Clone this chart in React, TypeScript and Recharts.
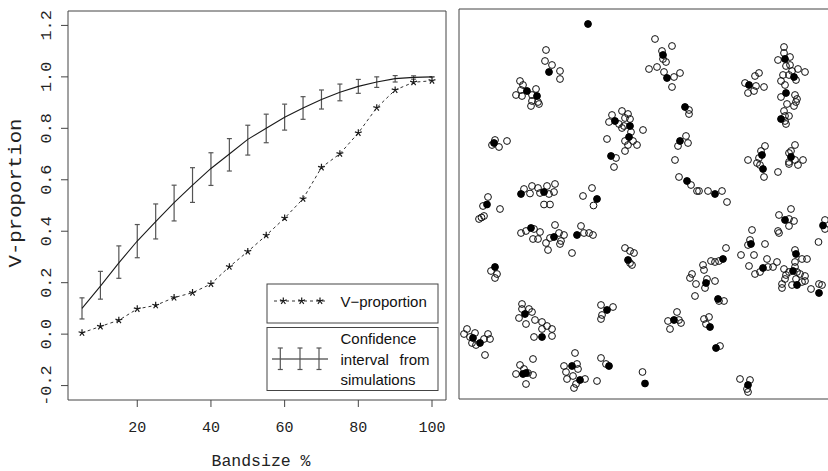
import React from 'react';
import { ComposedChart, ScatterChart, Line, Scatter, XAxis, YAxis, ErrorBar, ReferenceArea } from 'recharts';

// left panel: V-proportion against bandsize, with simulation envelope
const bandsize = [5, 10, 15, 20, 25, 30, 35, 40, 45, 50, 55, 60, 65, 70, 75, 80, 85, 90, 95, 100];
const vProportion = [0.005, 0.03, 0.054, 0.098, 0.112, 0.142, 0.161, 0.195, 0.262, 0.321, 0.384, 0.451, 0.526, 0.648, 0.701, 0.782, 0.88, 0.949, 0.979, 0.985];
const ciMean = [0.1, 0.187, 0.277, 0.362, 0.437, 0.511, 0.579, 0.644, 0.7, 0.757, 0.8, 0.843, 0.879, 0.912, 0.94, 0.963, 0.98, 0.993, 0.998, 1.0];
const ciLow = [0.059, 0.136, 0.217, 0.297, 0.37, 0.44, 0.512, 0.578, 0.634, 0.696, 0.744, 0.793, 0.835, 0.875, 0.907, 0.936, 0.959, 0.98, 0.991, 1.0];
const ciHigh = [0.141, 0.244, 0.343, 0.426, 0.506, 0.579, 0.647, 0.705, 0.76, 0.812, 0.855, 0.894, 0.923, 0.949, 0.972, 0.99, 1.0, 1.005, 1.004, 1.0];
const xTicks = [20, 40, 60, 80, 100];
const yTicks = [-0.2, 0, 0.2, 0.4, 0.6, 0.8, 1.0, 1.2];

// right panel: point pattern (open = all points, filled = V points)
const openPoints: [number, number][] = [
  [87, 349], [86, 338], [93, 334], [101, 328], [101, 320],
  [61, 318], [64, 314], [62, 309], [57, 304], [63, 303], [77, 310], [73, 304], [73, 298], [72, 293], [79, 297], [80, 295],
  [36, 259], [33, 254], [40, 252], [48, 258],
  [163, 288], [169, 285], [153, 284], [171, 280], [166, 281], [150, 277], [160, 275], [165, 273], [163, 271], [172, 267],
  [166, 258], [174, 258], [178, 254], [169, 254], [166, 248], [148, 260], [157, 241], [155, 232], [184, 269],
  [29, 202], [24, 193], [41, 190], [20, 180], [22.5, 181.5], [25, 183],
  [65, 210], [71, 205.5], [73, 213], [79, 211], [81, 206], [88, 213], [90, 205], [95, 207], [96, 215], [85, 194.5], [91, 194.5],
  [124, 203], [133, 211], [134.5, 193.5],
  [196, 360], [213, 353], [203, 348], [204, 340], [207, 337], [190, 330], [198, 332], [205, 327], [215, 322], [221, 326], [213, 312],
  [230, 289], [230, 285],
  [227, 263], [229, 256], [219, 253], [216, 239],
  [220, 222], [232, 214], [238, 208], [240, 208], [249, 208], [263, 208], [268, 197],
  [286, 316], [296, 323], [300, 326], [297, 313], [305, 312], [289, 306], [295, 308],
  [325, 352], [325, 346], [319, 339], [331, 342], [327, 333], [331, 334], [339, 330], [346, 327], [333, 328], [330, 324],
  [324, 324], [337, 319], [322, 318], [326, 314], [322, 302], [336, 304], [338, 300], [337, 297], [328, 295], [335, 293],
  [325, 288], [330, 283], [326, 283], [326, 278], [327, 275],
  [306, 253], [302, 248], [300, 241], [289, 239], [298, 236], [301, 234], [305, 222], [319, 227],
  [336, 254], [330, 246], [332, 248], [336, 239], [344, 239], [330, 235], [339, 234], [330, 237],
  [62, 166], [67, 168], [75, 170], [74, 160], [79, 160], [81, 167], [87, 156], [91, 161], [96, 174], [100, 166], [105, 164], [102, 158], [101, 155], [89, 149],
  [122, 173], [125, 166], [130, 166], [134, 164], [113, 146],
  [166, 151], [171, 148], [175, 146], [171, 136], [173, 134],
  [32, 128], [38, 125], [36, 121],
  [63, 95], [63, 90], [70, 90], [73, 87], [60, 81], [76, 79], [67, 75], [83, 77], [88, 73], [83, 70], [93, 70], [75, 62], [93, 63],
  [142, 94], [154, 92], [143, 84], [142, 80],
  [8, 70], [5, 65], [16, 66], [11, 62], [13, 56], [17, 54], [25, 60], [29, 65], [31, 60], [26, 44],
  [74, 40], [61, 34], [65, 30], [69, 26], [57, 25], [74, 24], [67, 15],
  [116, 46], [105, 33], [118, 35], [119, 30], [107, 27], [114, 23], [108, 20], [126, 20], [117, 15], [115, 11], [138, 18],
  [142, 41], [147, 35], [183.5, 27],
  [332, 190], [320, 184], [330, 180], [335, 178], [330, 173], [319, 168], [320, 166],
  [366, 179], [366, 170], [359.5, 157],
  [293, 169], [291, 159], [289, 154], [306, 155], [282, 144], [295, 144], [290, 133], [296, 125], [301, 127], [308, 140], [309, 132], [314, 132], [318, 137],
  [336, 149], [336, 137], [343, 140], [348, 140], [336, 132], [325, 130], [330, 127], [327, 124], [338, 127], [341, 125], [346, 123],
  [326, 120], [337, 120], [333, 114], [343, 117], [346, 118], [323, 115], [323, 111], [352, 110], [360, 115], [363, 114],
  [267, 151], [260, 138], [256, 137], [252, 138], [244, 134], [245, 129], [233, 125], [231, 121], [237, 115], [248, 120], [246, 111], [256, 118], [236, 103], [260, 98], [265, 98],
  [218, 87], [209, 78], [220, 79], [222, 76], [211, 70],
  [245, 80], [250, 82], [247, 75],
  [261, 53],
  [281, 20], [291, 19], [288, 10], [289, 7],
];
const filledPoints: [number, number][] = [
  [129, 375], [90, 327], [68, 308], [78, 303], [35, 256], [156, 278], [171, 273], [170, 262], [152, 243],
  [28, 194.5], [62, 205], [85, 207], [138, 200], [204, 344], [208, 321], [226, 292], [221, 258], [228, 218], [256, 205],
  [290, 314], [326, 340], [335, 322], [327, 306], [322, 280], [303, 244], [304, 230], [332, 242],
  [72, 171], [95, 162], [118, 164], [169, 139], [36, 132], [66, 85], [83, 62], [148, 89], [14, 61], [21, 56],
  [64, 25], [67, 26], [113, 33], [121, 19], [150, 33], [186, 15.5],
  [326, 179], [364, 173.5], [292, 155], [304, 131], [337, 145], [334, 128], [338, 114], [360, 106],
  [264, 140], [247, 116], [259, 100], [215, 79], [251, 72], [257, 51], [289, 14],
];

const MONO = '"Liberation Mono", "DejaVu Sans Mono", monospace';
const SANS = '"Liberation Sans", Arial, sans-serif';
const INK = '#1a1a1a';
const FRAME = '#444';

const lineData = bandsize.map((b, i) => ({
  band: b,
  v: vProportion[i],
  ci: ciMean[i],
  ciErr: [ciMean[i] - ciLow[i], ciHigh[i] - ciMean[i]],
}));
const openData = openPoints.map(([x, y]) => ({ x, y }));
const filledData = filledPoints.map(([x, y]) => ({ x, y }));

function starPath(cx: number, cy: number, r: number) {
  let d = '';
  for (let k = 0; k < 5; k++) {
    const a = -Math.PI / 2 + (k * 2 * Math.PI) / 5;
    d += `M${cx},${cy}L${(cx + r * Math.cos(a)).toFixed(2)},${(cy + r * Math.sin(a)).toFixed(2)}`;
  }
  return d;
}

const renderStar = (props: any) => {
  const { cx, cy, index } = props;
  if (cx == null || cy == null) return <g key={`s-${index}`} />;
  return <path key={`s-${index}`} d={starPath(cx, cy, 3.6)} stroke={INK} strokeWidth={1.2} fill="none" />;
};

const XTick = (props: any) => {
  const { x, payload } = props;
  return (
    <text x={x} y={432} textAnchor="middle" fontFamily={MONO} fontSize={15} fill="#222">
      {payload.value}
    </text>
  );
};

const YTick = (props: any) => {
  const { y, payload } = props;
  return (
    <text
      transform={`translate(51, ${y}) rotate(-90) scale(1.12, 1)`}
      textAnchor="middle"
      fontFamily={MONO}
      fontSize={15}
      fill="#222"
    >
      {Number(payload.value).toFixed(1)}
    </text>
  );
};

const ErrTick = ({ x, y1, y2 }: { x: number; y1: number; y2: number }) => (
  <g stroke="#555" strokeWidth={1.2}>
    <line x1={x} y1={y1} x2={x} y2={y2} />
    <line x1={x - 2.5} y1={y1} x2={x + 2.5} y2={y1} />
    <line x1={x - 2.5} y1={y2} x2={x + 2.5} y2={y2} />
  </g>
);

function Overlay() {
  return (
    <svg width={450} height={471} style={{ position: 'absolute', left: 0, top: 0, pointerEvents: 'none' }}>
      <text x={261} y={466} textAnchor="middle" fontFamily={MONO} fontSize={16.5} fill="#222">
        Bandsize %
      </text>
      <text
        transform="translate(21, 193) rotate(-90) scale(1.15, 1)"
        textAnchor="middle"
        fontFamily={MONO}
        fontSize={18}
        fill="#222"
      >
        V-proportion
      </text>

      <rect x={267} y={284} width={171} height={39} fill="#fff" stroke={FRAME} />
      <line x1={274} y1={301} x2={328} y2={301} stroke="#333" strokeDasharray="3 3" />
      {[283.3, 301.7, 320].map((sx) => (
        <path key={sx} d={starPath(sx, 301, 3.6)} stroke={INK} strokeWidth={1.2} fill="none" />
      ))}
      <text x={340.5} y={306.5} fontFamily={SANS} fontSize={15} fill="#111">
        V−proportion
      </text>

      <rect x={267} y={327.5} width={171} height={63} fill="#fff" stroke={FRAME} />
      <line x1={272} y1={359} x2={328} y2={359} stroke={INK} strokeWidth={1.1} />
      {[280.3, 300, 319].map((ex) => (
        <ErrTick key={ex} x={ex} y1={348} y2={369.5} />
      ))}
      <text x={340.5} y={344} fontFamily={SANS} fontSize={15} fill="#111">
        Confidence
      </text>
      <text x={340.5} y={364.5} fontFamily={SANS} fontSize={15} fill="#111">
        interval
      </text>
      <text x={429.5} y={364.5} textAnchor="end" fontFamily={SANS} fontSize={15} fill="#111">
        from
      </text>
      <text x={340.5} y={384.5} fontFamily={SANS} fontSize={15} fill="#111">
        simulations
      </text>
    </svg>
  );
}

const OpenDot = (props: any) => (
  <circle cx={props.cx} cy={props.cy} r={3.4} fill="none" stroke="#111" strokeWidth={1} />
);
const FilledDot = (props: any) => (
  <circle cx={props.cx} cy={props.cy} r={3.4} fill="#000" stroke="#000" strokeWidth={1} />
);

export default function App() {
  return (
    <div
      style={{
        position: 'absolute',
        left: 0,
        top: 0,
        width: 828,
        height: 471,
        overflow: 'hidden',
        background: '#fff',
      }}
    >
      <div style={{ position: 'absolute', left: 0, top: 0 }}>
        <ComposedChart width={450} height={471} data={lineData} margin={{ top: 11, right: 4, bottom: 0, left: 0 }}>
          <XAxis
            dataKey="band"
            type="number"
            domain={[1.2, 103.8]}
            allowDataOverflow
            ticks={xTicks}
            interval={0}
            height={71}
            tickSize={7}
            axisLine={false}
            tickLine={{ stroke: FRAME }}
            tick={<XTick />}
          />
          <YAxis
            type="number"
            domain={[-0.256, 1.256]}
            allowDataOverflow
            ticks={yTicks}
            interval={0}
            width={68}
            tickSize={7}
            axisLine={false}
            tickLine={{ stroke: FRAME }}
            tick={<YTick />}
          />
          <ReferenceArea x1={1.2} x2={103.8} y1={-0.256} y2={1.256} fill="none" stroke={FRAME} ifOverflow="visible" />
          <Line dataKey="ci" stroke={INK} strokeWidth={1.1} dot={false} isAnimationActive={false}>
            <ErrorBar dataKey="ciErr" width={2.5} stroke="#555" strokeWidth={1.2} direction="y" isAnimationActive={false} />
          </Line>
          <Line
            dataKey="v"
            stroke="#333"
            strokeWidth={1}
            strokeDasharray="3 3"
            dot={renderStar}
            activeDot={false}
            isAnimationActive={false}
          />
        </ComposedChart>
        <Overlay />
      </div>

      <div style={{ position: 'absolute', left: 452, top: 0 }}>
        <ScatterChart width={400} height={471} margin={{ top: 9, right: 0, bottom: 72, left: 7 }}>
          <XAxis dataKey="x" type="number" domain={[0, 393]} allowDataOverflow hide />
          <YAxis dataKey="y" type="number" domain={[0, 390]} allowDataOverflow hide />
          <ReferenceArea x1={0} x2={393} y1={0} y2={390} fill="none" stroke={FRAME} ifOverflow="visible" />
          <Scatter data={openData} shape={<OpenDot />} isAnimationActive={false} />
          <Scatter data={filledData} shape={<FilledDot />} isAnimationActive={false} />
        </ScatterChart>
      </div>
    </div>
  );
}
